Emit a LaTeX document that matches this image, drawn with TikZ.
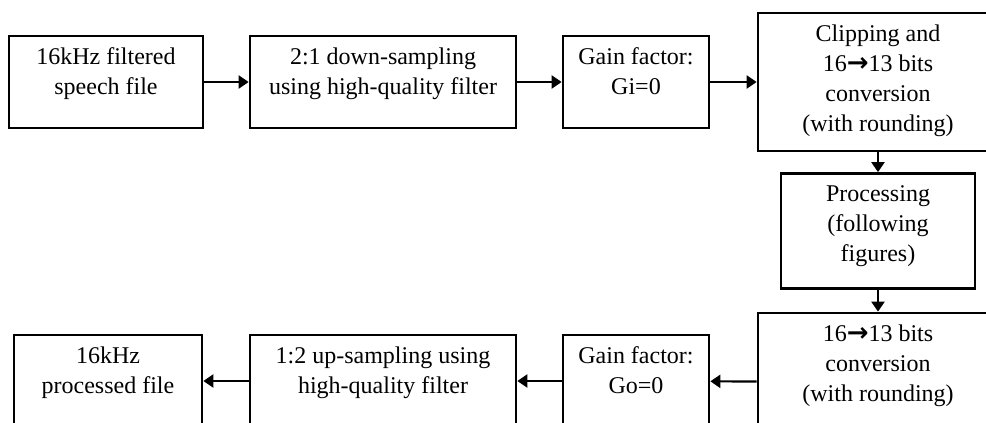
\documentclass[tikz,border=0pt]{standalone}
\usepackage{fontspec}
\setmainfont{Liberation Serif}
\newfontfamily\arrowfont{DejaVu Sans}
\usetikzlibrary{arrows.meta}
\newcommand{\blocktext}[3]{\parbox[c][#2][t]{#1}{\centering\rule{0pt}{14pt}#3}}
\newcommand{\bitsto}{{\arrowfont\bfseries\fontsize{13}{15}\selectfont →}}

\begin{document}
\begin{tikzpicture}[x=0.5pt,y=-0.5pt,>={Triangle[length=5pt,width=6.5pt]},
  blk/.style={draw,line width=1.35pt,inner sep=0pt,font=\fontsize{12}{15}\selectfont},
  flow/.style={->,line width=1.1pt}]
\useasboundingbox (0,0) rectangle (986,423);
\clip (0,0) rectangle (986,423);
% upper row
\node[blk] (in) at (106,82) {\blocktext{97pt}{46pt}{16kHz filtered\\speech file}};
\node[blk] (down) at (383,82) {\blocktext{133pt}{46pt}{2:1 down-sampling\\using high-quality filter}};
\node[blk] (gi) at (636,82) {\blocktext{73pt}{46pt}{Gain factor:\\Gi=0}};
\node[blk] (clip) at (878,82) {\blocktext{120pt}{69pt}{Clipping and\\16\bitsto13 bits\\conversion\\(with rounding)}};
% middle
\node[blk] (proc) at (878,231) {\blocktext{97pt}{57.5pt}{Processing\\(following\\figures)}};
% lower row
\node[blk] (conv) at (878,382) {\blocktext{120pt}{69pt}{16\bitsto13 bits\\conversion\\(with rounding)}};
\node[blk] (go) at (636,381) {\blocktext{73pt}{46pt}{Gain factor:\\Go=0}};
\node[blk] (up) at (383,381) {\blocktext{133pt}{46pt}{1:2 up-sampling using\\high-quality filter}};
\node[blk] (out) at (108,381) {\blocktext{94pt}{46pt}{16kHz\\processed file}};
\draw[flow] (in) -- (down);
\draw[flow] (down) -- (gi);
\draw[flow] (gi) -- (clip);
\draw[flow] (clip) -- (proc);
\draw[flow] (proc) -- (conv);
\draw[flow] (conv) -- (go);
\draw[flow] (go) -- (up);
\draw[flow] (up) -- (out);
\end{tikzpicture}
\end{document}
